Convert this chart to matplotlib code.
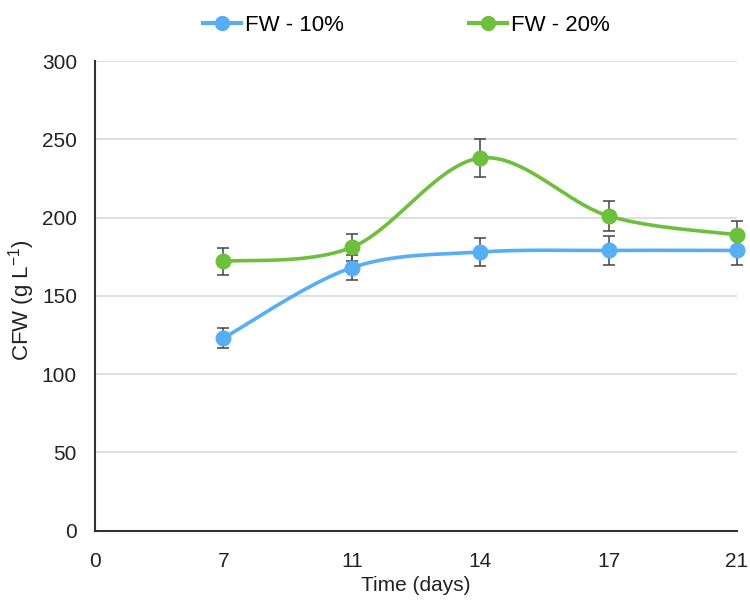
import numpy as np
import matplotlib.pyplot as plt
from matplotlib.lines import Line2D

plt.rcParams['font.family'] = ['Liberation Sans', 'DejaVu Sans']
plt.rcParams['mathtext.fontset'] = 'custom'
plt.rcParams['mathtext.rm'] = 'Liberation Sans'
plt.rcParams['axes.unicode_minus'] = False

days = ['0', '7', '11', '14', '17', '21']
fw10 = [123, 168, 178, 179, 179]
fw10_err = [6.5, 8, 9, 9.3, 9]
fw20 = [172, 181, 238, 201, 189]
fw20_err = [8.7, 8.5, 12, 9.6, 8.7]

blue = '#56AEF6'
green = '#6CC03C'


def smooth(x, y, n=40):
    # excel-like smoothed line: cubic bezier through points, catmull-rom controls
    x = np.asarray(x, float)
    y = np.asarray(y, float)
    px = np.concatenate([[x[0]], x, [x[-1]]])
    py = np.concatenate([[y[0]], y, [y[-1]]])
    xs, ys = [], []
    t = np.linspace(0, 1, n)
    for i in range(1, len(px) - 2):
        p0 = np.array([px[i], py[i]])
        p3 = np.array([px[i + 1], py[i + 1]])
        c1 = p0 + (np.array([px[i + 1], py[i + 1]]) - np.array([px[i - 1], py[i - 1]])) / 6
        c2 = p3 - (np.array([px[i + 2], py[i + 2]]) - np.array([px[i], py[i]])) / 6
        b = ((1 - t) ** 3)[:, None] * p0 + (3 * (1 - t) ** 2 * t)[:, None] * c1 \
            + (3 * (1 - t) * t ** 2)[:, None] * c2 + (t ** 3)[:, None] * p3
        xs.extend(b[:, 0])
        ys.extend(b[:, 1])
    return np.array(xs), np.array(ys)


fig = plt.figure(figsize=(7.5, 6.01), dpi=100)
ax = fig.add_axes([0.1267, 0.117, 0.856, 0.7815])

pos = np.arange(1, len(days))
for vals, err, col in [(fw10, fw10_err, blue), (fw20, fw20_err, green)]:
    sx, sy = smooth(pos, vals)
    ax.plot(sx, sy, color=col, lw=2.6, solid_capstyle='round', zorder=3, clip_on=False)
    ax.errorbar(pos, vals, yerr=err, fmt='none', ecolor='#444444', elinewidth=1.1,
                capsize=4, capthick=1.1, zorder=4, clip_on=False)
    ax.plot(pos, vals, 'o', color=col, ms=10.5, zorder=5, clip_on=False)

ax.set_xlim(0, 5)
ax.set_ylim(0, 300)
ax.set_xticks(range(len(days)))
ax.set_xticklabels(days)
ax.set_yticks(range(0, 301, 50))
ax.grid(axis='y', color='#d9d9d9', lw=1.2)
ax.set_axisbelow(True)
for s in ['top', 'right']:
    ax.spines[s].set_visible(False)
for s in ['left', 'bottom']:
    ax.spines[s].set_color('#333333')
    ax.spines[s].set_linewidth(1.5)
ax.tick_params(length=0, labelsize=15, colors='#222222')
ax.tick_params(axis='y', pad=13)
ax.tick_params(axis='x', pad=15)
ax.set_xlabel('Time (days)', fontsize=15, color='#222222', labelpad=4)
ax.set_ylabel('CFW (g L$^{\\mathregular{-1}}$)', fontsize=16, color='#222222')
ax.yaxis.set_label_coords(-0.09, 0.49)

handles = [Line2D([], [], color=blue, lw=3, marker='o', ms=10),
           Line2D([], [], color=green, lw=3, marker='o', ms=10)]
fig.legend(handles, ['FW - 10%', 'FW - 20%'], loc='center', bbox_to_anchor=(0.542, 0.958),
           ncol=2, frameon=False, fontsize=16, handlelength=1.7, handletextpad=0.2,
           columnspacing=5.6)

fig.savefig('out.png', dpi=100)
